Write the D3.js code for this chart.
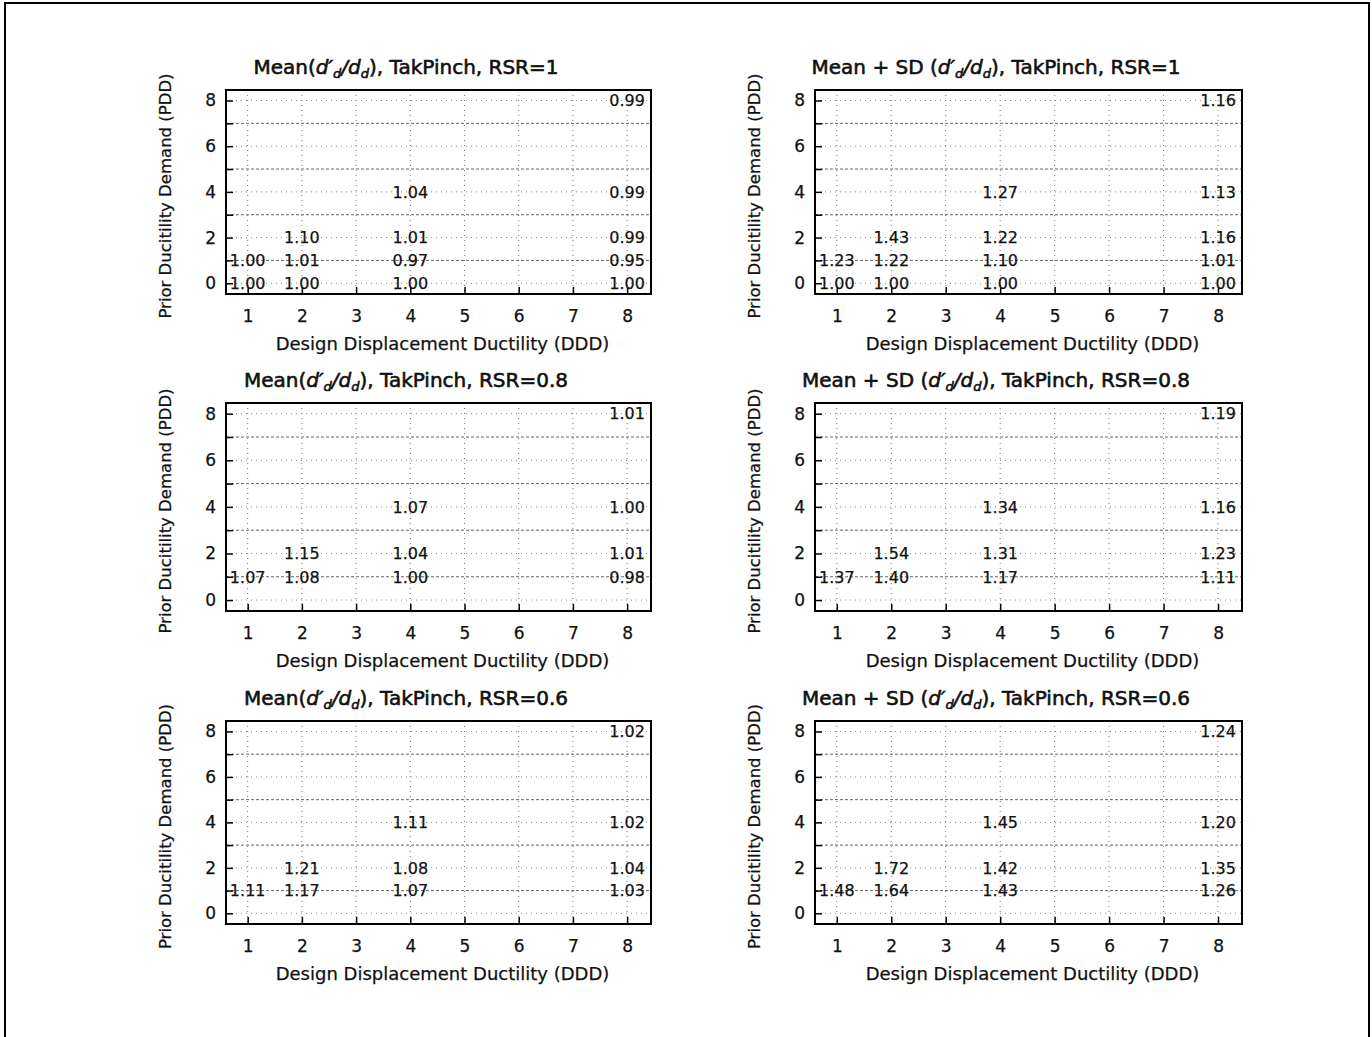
<!DOCTYPE html>
<html><head><meta charset="utf-8">
<script src="https://cdnjs.cloudflare.com/ajax/libs/d3/7.8.5/d3.min.js"></script>
<style>
html,body{margin:0;padding:0;background:#fff;}
text{font-family:"DejaVu Sans",Verdana,sans-serif;fill:#111;stroke:#111;stroke-width:0.25px;}
</style></head>
<body>
<svg id="c" width="1372" height="1037"></svg>
<script>
// Cell positions (shared by all panels)
const cellDDD = [1, 2, 4, 8, 1, 2, 4, 8, 2, 4, 8, 4, 8, 8];
const cellPDD = [0, 0, 0, 0, 1, 1, 1, 1, 2, 2, 2, 4, 4, 8];
// Panel values (null = not shown)
const meanRSR1  = [1.00, 1.00, 1.00, 1.00, 1.00, 1.01, 0.97, 0.95, 1.10, 1.01, 0.99, 1.04, 0.99, 0.99];
const sdRSR1    = [1.00, 1.00, 1.00, 1.00, 1.23, 1.22, 1.10, 1.01, 1.43, 1.22, 1.16, 1.27, 1.13, 1.16];
const meanRSR08 = [null, null, null, null, 1.07, 1.08, 1.00, 0.98, 1.15, 1.04, 1.01, 1.07, 1.00, 1.01];
const sdRSR08   = [null, null, null, null, 1.37, 1.40, 1.17, 1.11, 1.54, 1.31, 1.23, 1.34, 1.16, 1.19];
const meanRSR06 = [null, null, null, null, 1.11, 1.17, 1.07, 1.03, 1.21, 1.08, 1.04, 1.11, 1.02, 1.02];
const sdRSR06   = [null, null, null, null, 1.48, 1.64, 1.43, 1.26, 1.72, 1.42, 1.35, 1.45, 1.20, 1.24];
// Tick labels
const xTicks = [1, 2, 3, 4, 5, 6, 7, 8];
const yMajorTicks = [0, 2, 4, 6, 8];
const yAllTicks = [0, 1, 2, 3, 4, 5, 6, 7, 8];
const titlePrefix = ["Mean(", "Mean + SD ("];
const rsrLabels = ["1", "0.8", "0.6"];
const xTitle = "Design Displacement Ductility (DDD)";
const yTitle = "Prior Ducitility Demand (PDD)";

const panels = [
  {row:0,col:0,vals:meanRSR1,kind:0},{row:0,col:1,vals:sdRSR1,kind:1},
  {row:1,col:0,vals:meanRSR08,kind:0},{row:1,col:1,vals:sdRSR08,kind:1},
  {row:2,col:0,vals:meanRSR06,kind:0},{row:2,col:1,vals:sdRSR06,kind:1}
];
const colX = [[226,651],[815,1242]];
const rowY = [[90,294],[403,611],[721,924]];
const titleCX = [406, 996];

const svg = d3.select("#c");
svg.append("rect").attr("x",5).attr("y",3).attr("width",1364).attr("height",1045)
  .attr("fill","none").attr("stroke","#000").attr("stroke-width",2);

panels.forEach(p=>{
  const [x0,x1] = colX[p.col], [y0,y1] = rowY[p.row];
  const x = d3.scaleLinear().domain([0.6,8.44]).range([x0,x1]);
  const y = d3.scaleLinear().domain([-0.47,8.46]).range([y1,y0]);
  const g = svg.append("g");
  // grid
  g.selectAll(".vg").data(xTicks).join("line")
    .attr("x1",d=>x(d)).attr("x2",d=>x(d)).attr("y1",y0).attr("y2",y1)
    .attr("stroke","#777").attr("stroke-width",1).attr("stroke-dasharray","1,4");
  g.selectAll(".hg").data(yAllTicks).join("line")
    .attr("x1",x0).attr("x2",x1).attr("y1",d=>y(d)).attr("y2",d=>y(d))
    .attr("stroke",d=>d%2?"#666":"#888").attr("stroke-width",1)
    .attr("stroke-dasharray",d=>d%2?"3,2":"1,4");
  // axes
  const ax = g.append("g").attr("transform",`translate(0,${y1})`)
    .call(d3.axisBottom(x).tickValues(xTicks).tickSize(-7).tickPadding(16).tickFormat(d3.format("d")));
  const ay = g.append("g").attr("transform",`translate(${x0},0)`)
    .call(d3.axisLeft(y).tickValues(yAllTicks).tickSize(-7).tickPadding(10)
      .tickFormat(d=>yMajorTicks.includes(d)?d:""));
  [ax,ay].forEach(a=>{
    a.select(".domain").remove();
    a.selectAll("line").attr("stroke","#000").attr("stroke-width",1.5);
    a.selectAll("text").style("font-size","17px").attr("fill","#111")
      .style("font-family","'DejaVu Sans',sans-serif");
  });
  // box
  g.append("rect").attr("x",x0).attr("y",y0).attr("width",x1-x0).attr("height",y1-y0)
    .attr("fill","none").attr("stroke","#000").attr("stroke-width",2);
  // values
  const cells = p.vals.map((v,i)=>({v,dx:cellDDD[i],py:cellPDD[i]})).filter(c=>c.v!==null);
  g.selectAll(".val").data(cells).join("text")
    .attr("x",c=>x(c.dx)).attr("y",c=>y(c.py)).attr("dy","0.36em")
    .attr("text-anchor","middle").style("font-size","16px")
    .text(c=>c.v.toFixed(2));
  // title
  const t = g.append("text").attr("x",titleCX[p.col]).attr("y",y0-23).attr("dy","0.36em")
    .attr("text-anchor","middle").style("font-size","20px").style("stroke-width","0.6px");
  t.append("tspan").text(titlePrefix[p.kind]);
  t.append("tspan").style("font-style","italic").text("d′");
  t.append("tspan").style("font-style","italic").style("font-size","13px").attr("dy","4").text("d");
  t.append("tspan").style("font-style","italic").attr("dy","-4").text("/d");
  t.append("tspan").style("font-style","italic").style("font-size","13px").attr("dy","4").text("d");
  t.append("tspan").attr("dy","-4").text(`), TakPinch, RSR=${rsrLabels[p.row]}`);
  // axis titles
  g.append("text").attr("x",(x0+x1)/2+4).attr("y",y1+50).attr("dy","0.36em")
    .attr("text-anchor","middle").style("font-size","18px").text(xTitle);
  g.append("text").attr("transform",`translate(${x0-61},${(y0+y1)/2+4}) rotate(-90)`)
    .attr("dy","0.36em").attr("text-anchor","middle").style("font-size","16.5px").text(yTitle);
});
</script>
</body></html>
